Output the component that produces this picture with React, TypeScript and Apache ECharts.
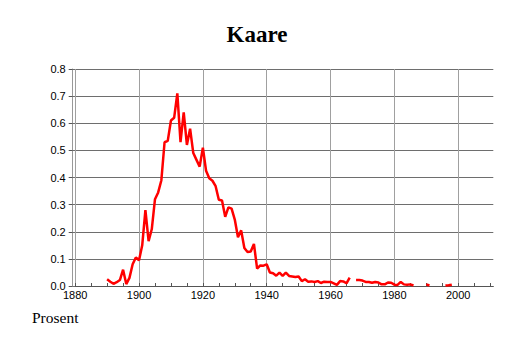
import { useEffect, useRef } from "react";
import * as echarts from "echarts";

// Data
const startYear = 1890;
const values: (number | null)[] = [
  0.025, 0.016, 0.008, 0.014, 0.022, 0.06, 0.007, 0.03, 0.08, 0.105, // 1890-1899
  0.095, 0.15, 0.28, 0.165, 0.21, 0.32, 0.345, 0.39, 0.53, 0.535, // 1900-1909
  0.61, 0.62, 0.71, 0.53, 0.64, 0.52, 0.58, 0.49, 0.465, 0.44, // 1910-1919
  0.51, 0.425, 0.397, 0.388, 0.368, 0.318, 0.315, 0.255, 0.29, 0.285, // 1920-1929
  0.245, 0.18, 0.205, 0.14, 0.125, 0.127, 0.155, 0.064, 0.076, 0.075, // 1930-1939
  0.08, 0.05, 0.047, 0.038, 0.049, 0.037, 0.049, 0.037, 0.035, 0.033, // 1940-1949
  0.035, 0.018, 0.025, 0.016, 0.017, 0.015, 0.018, 0.011, 0.016, 0.015, // 1950-1959
  0.015, 0.01, 0.004, 0.018, 0.017, 0.01, 0.031, null, 0.022, 0.022, // 1960-1969
  0.02, 0.015, 0.015, 0.012, 0.015, 0.013, 0.006, 0.006, 0.013, 0.012, // 1970-1979
  0.005, 0.004, 0.015, 0.006, 0.005, 0.006, 0.002, null, null, null, // 1980-1989
  0.006, 0.002, null, null, null, null, 0.002, 0.003, 0.005, null, // 1990-1999
];

const majorYears = [1880, 1900, 1920, 1940, 1960, 1980, 2000];
const minorYears = [
  1880, 1885, 1890, 1895, 1900, 1905, 1910, 1915, 1920, 1925, 1930, 1935,
  1940, 1945, 1950, 1955, 1960, 1965, 1970, 1975, 1980, 1985, 1990, 1995,
  2000, 2005, 2010,
];
const yMin = 0;
const yMax = 0.8;
const yStep = 0.1;
const xMin = 1880;
const xMax = 2011;
const titleText = "Kaare";
const yAxisTitle = "Prosent";

export default function App() {
  const ref = useRef<HTMLDivElement>(null);

  useEffect(() => {
    if (!ref.current) return;
    const chart = echarts.init(ref.current, null, { renderer: "svg" });
    const data = values.map((v, i) => [startYear + i, v]);
    const sans = "Liberation Sans";
    const serif = "Liberation Serif";
    chart.setOption({
      animation: false,
      backgroundColor: "#ffffff",
      graphic: [
        {
          type: "text",
          x: 257,
          y: 34,
          style: {
            text: titleText,
            fontFamily: serif,
            fontWeight: "bold",
            fontSize: 23,
            fill: "#000",
            align: "center",
            verticalAlign: "middle",
          },
        },
        {
          type: "text",
          x: 32,
          y: 317,
          style: {
            text: yAxisTitle,
            fontFamily: serif,
            fontSize: 15.5,
            fill: "#000",
            align: "left",
            verticalAlign: "middle",
          },
        },
      ],
      grid: [
        { left: 75.2, right: 20.7, top: 69, bottom: 57 },
        { left: 72.7, right: 20.7, top: 69, bottom: 57 },
      ],
      xAxis: [
        {
          gridIndex: 0,
          type: "value",
          min: xMin,
          max: xMax,
          position: "bottom",
          axisLine: { show: true, lineStyle: { color: "#555", width: 1 } },
          axisTick: { show: false, customValues: majorYears },
          axisLabel: {
            customValues: majorYears,
            margin: 3,
            fontFamily: sans,
            fontSize: 11,
            color: "#000",
            formatter: (v: number) => String(v),
          },
          splitLine: { show: true, lineStyle: { color: "#a0a0a0", width: 1 } },
        },
        {
          gridIndex: 0,
          type: "value",
          min: xMin,
          max: xMax,
          position: "bottom",
          axisLine: { show: false },
          axisTick: {
            show: true,
            inside: true,
            length: 3,
            customValues: minorYears,
            lineStyle: { color: "#555" },
          },
          axisLabel: { show: false },
          splitLine: { show: false },
        },
        { gridIndex: 1, type: "value", min: 0, max: 1, show: false },
      ],
      yAxis: [
        { gridIndex: 0, type: "value", min: yMin, max: yMax, show: false },
        {
          gridIndex: 1,
          type: "value",
          min: yMin,
          max: yMax,
          interval: yStep,
          axisLine: { show: true, lineStyle: { color: "#999", width: 1 } },
          axisTick: { show: true, length: 4, lineStyle: { color: "#555" } },
          axisLabel: {
            margin: 7,
            fontFamily: sans,
            fontSize: 11,
            color: "#000",
            formatter: (v: number) => v.toFixed(1),
          },
          splitLine: { show: true, lineStyle: { color: "#6e6e6e", width: 1 } },
        },
      ],
      series: [
        {
          type: "line",
          xAxisIndex: 0,
          yAxisIndex: 0,
          data,
          showSymbol: false,
          symbol: "none",
          connectNulls: false,
          lineStyle: { color: "#ff0000", width: 2.5 },
          z: 5,
        },
      ],
    });
    return () => chart.dispose();
  }, []);

  return (
    <div
      ref={ref}
      style={{
        position: "fixed",
        left: 0,
        top: 0,
        width: 514,
        height: 343,
        background: "#fff",
      }}
    />
  );
}
